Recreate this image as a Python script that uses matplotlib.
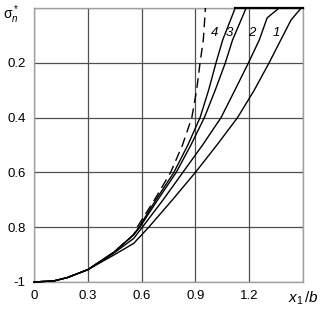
import matplotlib
matplotlib.use('Agg')
import matplotlib.pyplot as plt

plt.rcParams['font.family'] = ['Liberation Sans', 'DejaVu Sans']
plt.rcParams['mathtext.fontset'] = 'custom'
plt.rcParams['mathtext.rm'] = 'Liberation Sans'
plt.rcParams['mathtext.it'] = 'Liberation Sans:italic'

# curves: x1/b and sigma_n*
x1 = [0, 0.111, 0.185, 0.3, 0.444, 0.556, 0.64, 0.772, 0.9, 1.02, 1.135,
      1.228, 1.311, 1.376, 1.433, 1.49, 1.5]
s1 = [-1, -0.996, -0.984, -0.955, -0.902, -0.859, -0.8, -0.7, -0.6, -0.5,
      -0.4, -0.3, -0.2, -0.117, -0.044, 0, 0]
x2 = [0, 0.111, 0.185, 0.3, 0.444, 0.556, 0.604, 0.72, 0.83, 0.94, 1.043,
      1.12, 1.196, 1.256, 1.3, 1.367, 1.5]
s2 = [-1, -0.996, -0.984, -0.955, -0.895, -0.841, -0.8, -0.7, -0.6, -0.5,
      -0.4, -0.3, -0.2, -0.117, -0.036, 0, 0]
x3 = [0, 0.111, 0.185, 0.3, 0.444, 0.556, 0.59, 0.69, 0.793, 0.875, 0.95,
      1.011, 1.067, 1.107, 1.183, 1.5]
s3 = [-1, -0.996, -0.984, -0.955, -0.892, -0.828, -0.8, -0.7, -0.6, -0.5,
      -0.4, -0.299, -0.2, -0.117, 0, 0]
x4 = [0, 0.111, 0.185, 0.3, 0.444, 0.556, 0.585, 0.68, 0.78, 0.858, 0.926,
      0.974, 1.015, 1.052, 1.122, 1.5]
s4 = [-1, -0.996, -0.984, -0.955, -0.892, -0.827, -0.8, -0.7, -0.6, -0.5,
      -0.4, -0.299, -0.2, -0.117, 0, 0]
xd = [0, 0.111, 0.185, 0.3, 0.444, 0.556, 0.575, 0.672, 0.762, 0.828, 0.88,
      0.907, 0.926, 0.944, 0.956]
sd = [-1, -0.996, -0.984, -0.955, -0.892, -0.827, -0.8, -0.7, -0.6, -0.5,
      -0.4, -0.299, -0.2, -0.117, 0]

labels = ['1', '2', '3', '4']
label_x = [1.35, 1.217, 1.089, 1.006]
label_y = [-0.091, -0.091, -0.091, -0.091]

xticks = [0, 0.3, 0.6, 0.9, 1.2, 1.5]
xticklabels = ['0', '0.3', '0.6', '0.9', '1.2', '']
yticks = [-1, -0.8, -0.6, -0.4, -0.2, 0]
yticklabels = ['-1', '0.8', '0.6', '0.4', '0.2', '']

fig = plt.figure(figsize=(3.23, 3.12), dpi=100)
ax = fig.add_axes([34/323, 1-282/312, 269/323, 274/312])

for xs, ys in [(x1, s1), (x2, s2), (x3, s3), (x4, s4)]:
    ax.plot(xs, ys, color='black', lw=1.0, clip_on=False, zorder=3)
ax.plot(xd, sd, color='black', lw=1.0, ls=(0, (7, 4)), zorder=3)
ax.plot([1.122, 1.5], [0, 0], color='black', lw=1.6, clip_on=False, zorder=4)

for t, lx, ly in zip(labels, label_x, label_y):
    ax.text(lx, ly, t, fontsize=9.5, style='italic', ha='center', va='center')

ax.set_xlim(0, 1.5)
ax.set_ylim(-1, 0)
ax.set_xticks(xticks)
ax.set_xticklabels(xticklabels)
ax.set_yticks(yticks)
ax.set_yticklabels(yticklabels)
ax.tick_params(length=0, labelsize=9.5, pad=6)
ax.grid(True, color='#505050', lw=0.9)
ax.set_axisbelow(True)
for sp in ax.spines.values():
    sp.set_color('#a0a0a0')
    sp.set_linewidth(1.0)

ax.text(-0.085, 0.975, r'σ$_n^*$', transform=ax.transAxes, fontsize=10,
        ha='center', va='center')
ax.text(1.5, -1.06, r'$x_1\,/b$', fontsize=11, ha='center', va='center')

fig.savefig('out.png', dpi=100)
